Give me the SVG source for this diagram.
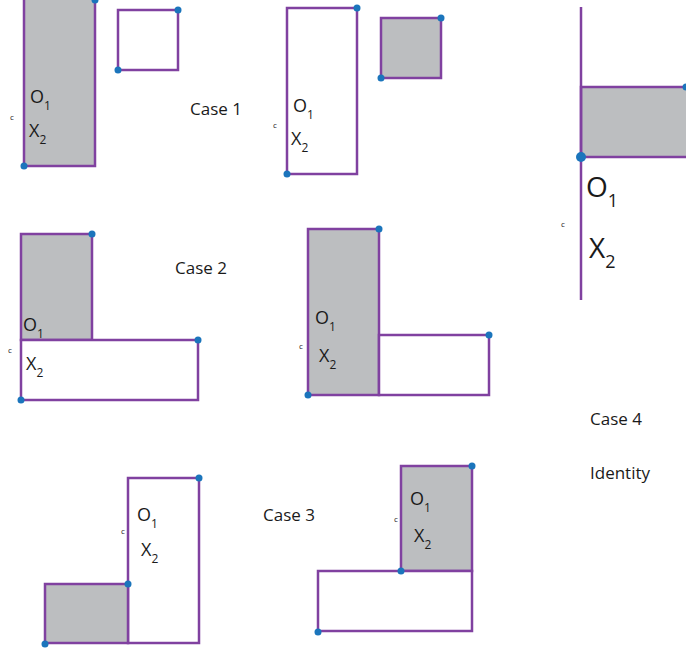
<svg xmlns="http://www.w3.org/2000/svg" width="686" height="651" viewBox="0 0 686 651">
<style>
.g{fill:#bcbec0;stroke:#8041a0;stroke-width:2.5}
.w{fill:#fff;stroke:#8041a0;stroke-width:2.5}
.ln{stroke:#8041a0;stroke-width:2.5;fill:none}
.d{fill:#1b75bc}
text{font-family:"Open Sans","Noto Sans",sans-serif;fill:#1a1a1a}
.l{font-size:18px}
.s{font-size:12px}
.c{font-size:8px}
.t{font-size:17px}
.L{font-size:28px}
.S{font-size:18px}
</style>
<rect width="686" height="651" fill="#fff"/>
<g id="case1a">
<rect class="g" x="24" y="-2" width="71" height="168"/>
<rect class="w" x="118" y="10" width="60" height="60"/>
<circle class="d" cx="95" cy="0" r="3.5"/><circle class="d" cx="24" cy="166" r="3.5"/>
<circle class="d" cx="178" cy="10" r="3.5"/><circle class="d" cx="118" cy="70" r="3.5"/>
<text class="l" x="30" y="103">O<tspan class="s" dy="7">1</tspan></text>
<text class="c" x="10" y="120">c</text>
<text class="l" x="29" y="137">X<tspan class="s" dy="7">2</tspan></text>
</g>
<g id="case1b">
<rect class="w" x="287" y="8" width="70" height="166"/>
<rect class="g" x="381" y="18" width="60" height="60"/>
<circle class="d" cx="357" cy="8" r="3.5"/><circle class="d" cx="287" cy="174" r="3.5"/>
<circle class="d" cx="441" cy="18" r="3.5"/><circle class="d" cx="381" cy="78" r="3.5"/>
<text class="l" x="293" y="112">O<tspan class="s" dy="7">1</tspan></text>
<text class="c" x="273" y="128">c</text>
<text class="l" x="291" y="145">X<tspan class="s" dy="7">2</tspan></text>
</g>
<text class="t" x="190" y="115">Case 1</text>
<g id="case4">
<rect class="g" x="581" y="87" width="110" height="70"/>
<line class="ln" x1="581" y1="7" x2="581" y2="300"/>
<circle class="d" cx="686" cy="87" r="3.5"/><circle class="d" cx="581" cy="157" r="5"/>
<text class="L" x="586" y="197">O<tspan class="S" dy="10">1</tspan></text>
<text class="c" x="561" y="227">c</text>
<text class="L" x="589" y="258">X<tspan class="S" dy="10">2</tspan></text>
</g>
<g id="case2a">
<rect class="g" x="21" y="234" width="71" height="106"/>
<rect class="w" x="21" y="340" width="177" height="60"/>
<circle class="d" cx="92" cy="234" r="3.5"/><circle class="d" cx="198" cy="340" r="3.5"/><circle class="d" cx="21" cy="400" r="3.5"/>
<text class="l" x="23" y="331">O<tspan class="s" dy="7">1</tspan></text>
<text class="c" x="8" y="353">c</text>
<text class="l" x="26" y="370">X<tspan class="s" dy="7">2</tspan></text>
</g>
<text class="t" x="175" y="274">Case 2</text>
<g id="case2b">
<rect class="g" x="308" y="229" width="71" height="166"/>
<rect class="w" x="379" y="335" width="110" height="60"/>
<circle class="d" cx="379" cy="229" r="3.5"/><circle class="d" cx="489" cy="335" r="3.5"/><circle class="d" cx="308" cy="395" r="3.5"/>
<text class="l" x="315" y="324">O<tspan class="s" dy="7">1</tspan></text>
<text class="c" x="299" y="349">c</text>
<text class="l" x="319" y="362">X<tspan class="s" dy="7">2</tspan></text>
</g>
<g id="case3a">
<rect class="w" x="128" y="478" width="71" height="165"/>
<rect class="g" x="45" y="584" width="83" height="59"/>
<circle class="d" cx="199" cy="478" r="3.5"/><circle class="d" cx="128" cy="584" r="3.5"/><circle class="d" cx="45" cy="644" r="3.5"/>
<text class="l" x="137" y="521">O<tspan class="s" dy="7">1</tspan></text>
<text class="c" x="121" y="534">c</text>
<text class="l" x="141" y="556">X<tspan class="s" dy="7">2</tspan></text>
</g>
<text class="t" x="263" y="521">Case 3</text>
<g id="case3b">
<rect class="g" x="401" y="466" width="71" height="105"/>
<rect class="w" x="318" y="571" width="154" height="60"/>
<circle class="d" cx="472" cy="466" r="3.5"/><circle class="d" cx="401" cy="571" r="3.5"/><circle class="d" cx="318" cy="632" r="3.5"/>
<text class="l" x="410" y="505">O<tspan class="s" dy="7">1</tspan></text>
<text class="c" x="394" y="522">c</text>
<text class="l" x="414" y="542">X<tspan class="s" dy="7">2</tspan></text>
</g>
<text class="t" x="590" y="425">Case 4</text>
<text class="t" x="590" y="479">Identity</text>
</svg>
